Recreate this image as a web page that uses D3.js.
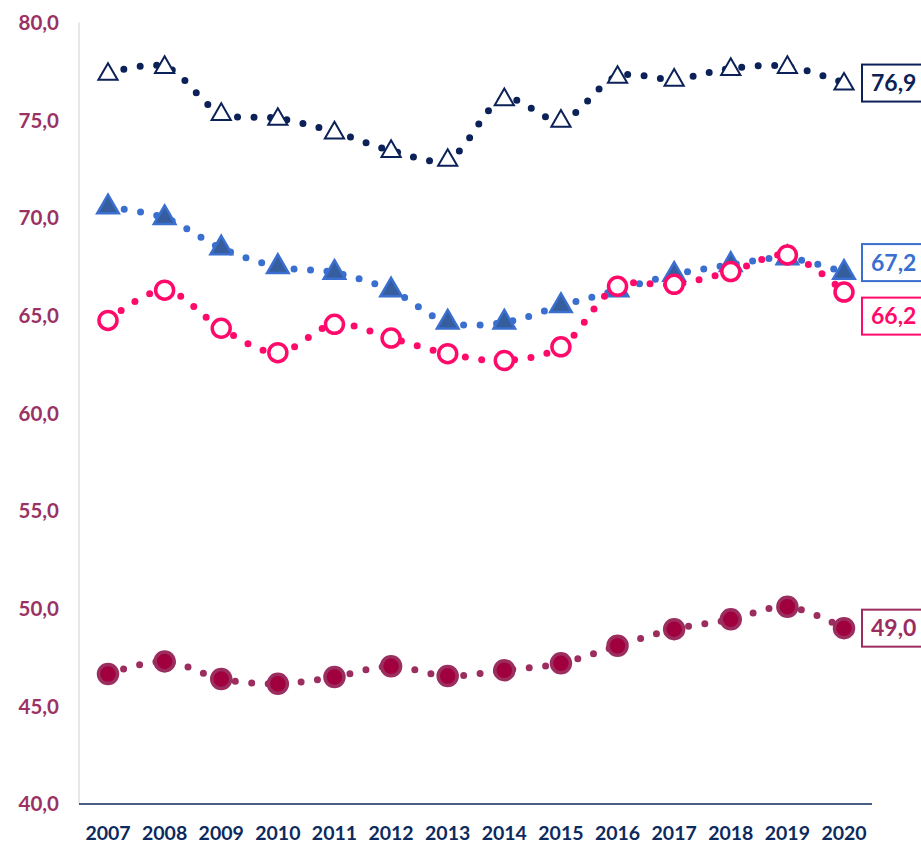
<!DOCTYPE html>
<html>
<head>
<meta charset="utf-8">
<script src="https://cdn.jsdelivr.net/npm/d3@7"></script>
<style>
  body { margin: 0; background: #fff; }
  svg { display: block; font-family: Lato, "Open Sans", sans-serif; font-weight: bold; }
</style>
</head>
<body>
<svg id="chart" width="921" height="843"></svg>
<script>
var years = [2007, 2008, 2009, 2010, 2011, 2012, 2013, 2014, 2015, 2016, 2017, 2018, 2019, 2020];
var yTicks = [40, 45, 50, 55, 60, 65, 70, 75, 80];

var navyValues   = [77.4, 77.75, 75.35, 75.1, 74.4, 73.45, 73.0, 76.1, 75.0, 77.25, 77.1, 77.65, 77.75, 76.9];
var blueValues   = [70.55, 70.0, 68.45, 67.5, 67.2, 66.3, 64.65, 64.65, 65.5, 66.3, 67.1, 67.6, 67.95, 67.2];
var pinkValues   = [64.75, 66.3, 64.35, 63.1, 64.55, 63.85, 63.05, 62.7, 63.4, 66.5, 66.6, 67.25, 68.1, 66.2];
var maroonValues = [46.65, 47.3, 46.4, 46.15, 46.5, 47.05, 46.55, 46.85, 47.2, 48.1, 48.95, 49.45, 50.1, 49.0];

var svg = d3.select('#chart');

var scaleX = d3.scaleLinear().domain([2007, 2020]).range([108, 844]);
var scaleY = d3.scaleLinear().domain([40, 80]).range([804, 22.5]);

var fmt = function (v) { return d3.format('.1f')(v).replace('.', ','); };

// axes
svg.append('line')
	.attr('x1', 79).attr('x2', 79)
	.attr('y1', scaleY(80)).attr('y2', scaleY(40))
	.attr('stroke', '#d0d0d0').attr('stroke-width', 1);

svg.append('line')
	.attr('x1', 79).attr('x2', 872)
	.attr('y1', scaleY(40)).attr('y2', scaleY(40))
	.attr('stroke', '#0d2a5e').attr('stroke-width', 1.5);

svg.append('g').selectAll('text')
	.data(yTicks).enter().append('text')
	.attr('x', 59)
	.attr('y', function (d) { return scaleY(d); })
	.attr('dy', '0.36em')
	.attr('text-anchor', 'end')
	.attr('fill', '#9b3264')
	.attr('font-size', 20.5)
	.text(fmt);

svg.append('g').selectAll('text')
	.data(years).enter().append('text')
	.attr('x', function (d) { return scaleX(d); })
	.attr('y', 840)
	.attr('text-anchor', 'middle')
	.attr('fill', '#0d2a5e')
	.attr('font-size', 19.5)
	.text(function (d) { return d; });

var series = [
	{ values: maroonValues, color: '#9b2d5f', marker: 'dot', labelDy: 0 },
	{ values: blueValues, color: '#3a6fd0', marker: 'filledTri', labelDy: -10 },
	{ values: pinkValues, color: '#ff0a6a', marker: 'ring', labelDy: 24 },
	{ values: navyValues, color: '#0b2157', marker: 'hollowTri', labelDy: 0 }
];

var line = d3.line()
	.curve(d3.curveCatmullRom.alpha(0.5))
	.x(function (d, i) { return scaleX(years[i]); })
	.y(function (d) { return scaleY(d); });

series.forEach(function (s) {
	var g = svg.append('g');

	g.append('path')
		.datum(s.values)
		.attr('d', line)
		.attr('fill', 'none')
		.attr('stroke', s.color)
		.attr('stroke-width', 7)
		.attr('stroke-linecap', 'round')
		.attr('stroke-dasharray', '0 16.5');

	var pts = g.selectAll('.pt').data(s.values).enter();

	if (s.marker === 'dot') {
		pts.append('circle')
			.attr('cx', function (d, i) { return scaleX(years[i]); })
			.attr('cy', function (d) { return scaleY(d); })
			.attr('r', 9.5)
			.attr('fill', '#a1003f')
			.attr('stroke', s.color)
			.attr('stroke-width', 3.5);
	} else if (s.marker === 'ring') {
		pts.append('circle')
			.attr('cx', function (d, i) { return scaleX(years[i]); })
			.attr('cy', function (d) { return scaleY(d); })
			.attr('r', 9)
			.attr('fill', '#fff')
			.attr('stroke', s.color)
			.attr('stroke-width', 3.5);
	} else {
		var filled = s.marker === 'filledTri';
		var sym = d3.symbol().type(d3.symbolTriangle).size(filled ? 200 : 160);
		pts.append('path')
			.attr('d', sym)
			.attr('transform', function (d, i) {
				return 'translate(' + scaleX(years[i]) + ',' + (scaleY(d) + (filled ? 0 : 1)) + ')';
			})
			.attr('fill', filled ? '#365e9e' : '#fff')
			.attr('stroke', s.color)
			.attr('stroke-width', filled ? 2.5 : 2)
			.attr('stroke-linejoin', 'miter');
	}

	// end label
	var last = s.values[s.values.length - 1];
	var cy = scaleY(last) + s.labelDy;
	g.append('rect')
		.attr('x', 862).attr('y', cy - 18.5)
		.attr('width', 70).attr('height', 37)
		.attr('fill', '#fff')
		.attr('stroke', s.color)
		.attr('stroke-width', 2);
	g.append('text')
		.attr('x', 871).attr('y', cy)
		.attr('dy', '0.36em')
		.attr('fill', s.color)
		.attr('font-size', 23)
		.text(fmt(last));
});
</script>
</body>
</html>
